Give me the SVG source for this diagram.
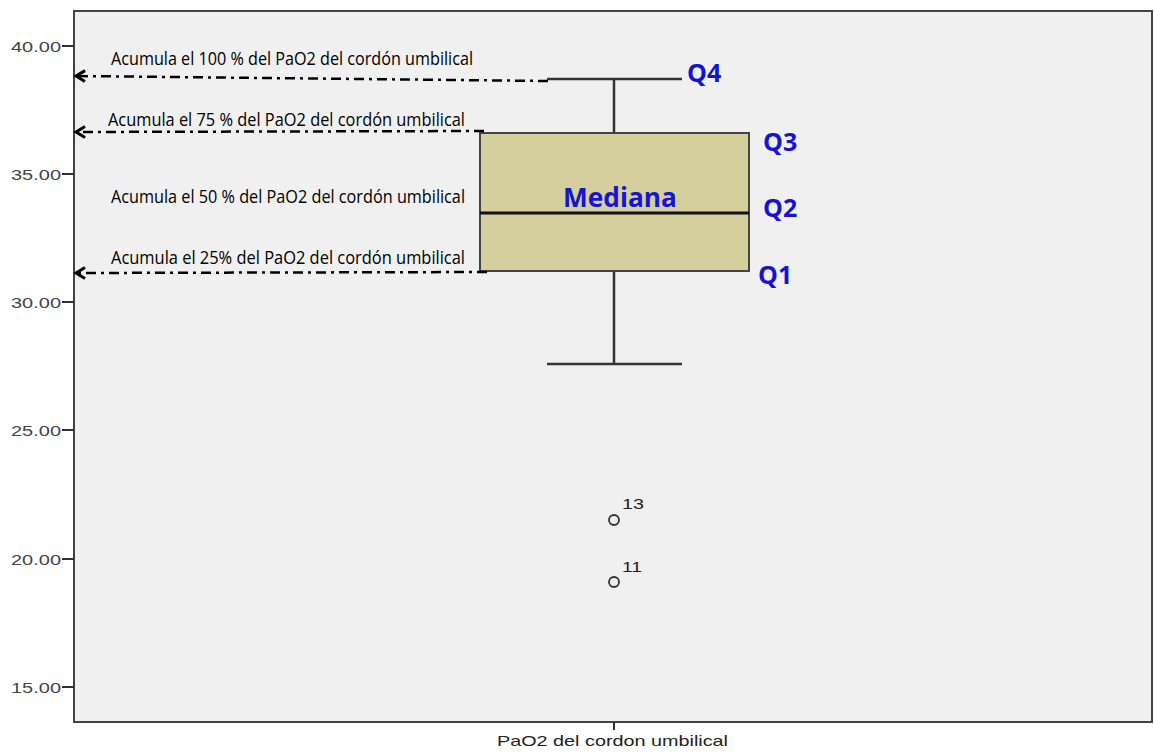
<svg xmlns="http://www.w3.org/2000/svg" width="1154" height="752" viewBox="0 0 1154 752">
<defs>
<style>
.tick{stroke:#333;stroke-width:2}
.axl{font-family:"Liberation Sans",Arial,sans-serif;font-size:15px;fill:#444;text-anchor:end}
.ann{font-family:"Open Sans","Liberation Sans",sans-serif;font-size:19px;fill:#000}
.q{font-family:"Open Sans","Liberation Sans",sans-serif;font-weight:bold;fill:#1414d2}
.dd{stroke:#000;stroke-width:2.5;fill:none;stroke-dasharray:10,5,3,5}
.wh{stroke:#333;stroke-width:2.5;fill:none}
.lbl{font-family:"Liberation Sans",Arial,sans-serif;font-size:15px;fill:#222}
</style>
<marker id="ah" markerWidth="16" markerHeight="16" refX="13" refY="8" orient="auto" markerUnits="userSpaceOnUse">
<path d="M4,2.5 L13,8 L4,13.5" fill="none" stroke="#000" stroke-width="3"/>
</marker>
</defs>
<rect width="1154" height="752" fill="#fff"/>
<g id="plot">
<rect x="74" y="11" width="1078" height="711" fill="#f0f0f0" stroke="#444" stroke-width="2"/>
</g>
<g id="yaxis">
<line class="tick" x1="62" y1="46" x2="74" y2="46"/>
<line class="tick" x1="62" y1="174" x2="74" y2="174"/>
<line class="tick" x1="62" y1="302" x2="74" y2="302"/>
<line class="tick" x1="62" y1="430" x2="74" y2="430"/>
<line class="tick" x1="62" y1="559" x2="74" y2="559"/>
<line class="tick" x1="62" y1="687" x2="74" y2="687"/>
<text class="axl" x="61" y="52" textLength="50" lengthAdjust="spacingAndGlyphs">40.00</text>
<text class="axl" x="61" y="180" textLength="50" lengthAdjust="spacingAndGlyphs">35.00</text>
<text class="axl" x="61" y="308" textLength="50" lengthAdjust="spacingAndGlyphs">30.00</text>
<text class="axl" x="61" y="436" textLength="50" lengthAdjust="spacingAndGlyphs">25.00</text>
<text class="axl" x="61" y="565" textLength="50" lengthAdjust="spacingAndGlyphs">20.00</text>
<text class="axl" x="61" y="693" textLength="50" lengthAdjust="spacingAndGlyphs">15.00</text>
</g>
<g id="xaxis">
<line class="tick" x1="614" y1="722" x2="614" y2="730"/>
<text class="lbl" x="497" y="746" textLength="231" lengthAdjust="spacingAndGlyphs">PaO2 del cordon umbilical</text>
</g>
<g id="boxplot">
<line class="wh" x1="614" y1="79" x2="614" y2="132"/>
<line class="wh" x1="547" y1="79" x2="682" y2="79"/>
<line class="wh" x1="614" y1="271" x2="614" y2="364"/>
<line class="wh" x1="547" y1="364" x2="682" y2="364"/>
<rect x="480" y="133" width="269" height="138" fill="#d4cf9c" stroke="#444" stroke-width="2"/>
<line x1="480" y1="213" x2="749" y2="213" stroke="#111" stroke-width="3"/>
</g>
<g id="outliers">
<circle cx="614" cy="520" r="5" fill="none" stroke="#333" stroke-width="1.8"/>
<text class="lbl" x="622" y="509" textLength="22" lengthAdjust="spacingAndGlyphs">13</text>
<circle cx="614" cy="582" r="5" fill="none" stroke="#333" stroke-width="1.8"/>
<text class="lbl" x="622" y="572" textLength="20" lengthAdjust="spacingAndGlyphs">11</text>
</g>
<g id="connectors">
<line class="dd" x1="548" y1="81" x2="76" y2="76" marker-end="url(#ah)"/>
<line class="dd" x1="484" y1="131" x2="76" y2="132" marker-end="url(#ah)"/>
<line class="dd" x1="487" y1="272" x2="76" y2="273" marker-end="url(#ah)"/>
</g>
<g id="annotations">
<text class="ann" x="111" y="65" textLength="362" lengthAdjust="spacingAndGlyphs">Acumula el 100 % del PaO2 del cordón umbilical</text>
<text class="ann" x="108" y="126" textLength="357" lengthAdjust="spacingAndGlyphs">Acumula el 75 % del PaO2  del cordón umbilical</text>
<text class="ann" x="111" y="203" textLength="354" lengthAdjust="spacingAndGlyphs">Acumula el 50 % del PaO2 del cordón umbilical</text>
<text class="ann" x="111" y="264" textLength="354" lengthAdjust="spacingAndGlyphs">Acumula el 25% del  PaO2 del cordón umbilical</text>
</g>
<g id="labels">
<text class="q" x="687" y="82" font-size="25">Q4</text>
<text class="q" x="763" y="151" font-size="25">Q3</text>
<text class="q" x="763" y="217" font-size="25">Q2</text>
<text class="q" x="758" y="284" font-size="25">Q1</text>
<text class="q" x="620" y="207" font-size="26" text-anchor="middle" textLength="114" lengthAdjust="spacingAndGlyphs">Mediana</text>
</g>
</svg>
